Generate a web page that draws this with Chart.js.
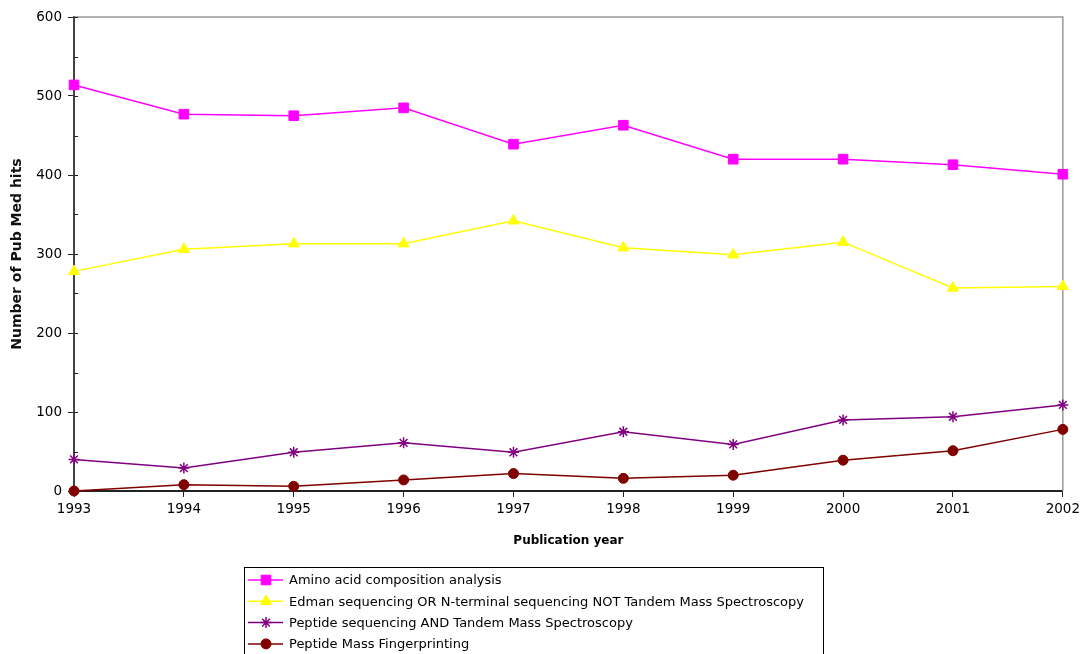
<!DOCTYPE html>
<html>
<head>
<meta charset="utf-8">
<script src="https://cdn.jsdelivr.net/npm/chart.js@4/dist/chart.umd.min.js"></script>
<style>
  html, body { margin: 0; padding: 0; background: #fff; }
  #wrap { width: 1084px; height: 654px; }
</style>
</head>
<body>
<div id="wrap"><canvas id="chart"></canvas></div>
<script>
const years = ['1993', '1994', '1995', '1996', '1997', '1998', '1999', '2000', '2001', '2002'];
const aminoAcid = [514, 477, 475, 485, 439, 463, 420, 420, 413, 401];
const edman = [278, 306, 313, 313, 342, 308, 299, 315, 257, 259];
const peptideSeq = [40, 29, 49, 61, 49, 75, 59, 90, 94, 109];
const pmf = [0, 8, 6, 14, 22, 16, 20, 39, 51, 78];

const seriesNames = [
  'Amino acid composition analysis',
  'Edman sequencing OR N-terminal sequencing NOT Tandem Mass Spectroscopy',
  'Peptide sequencing AND Tandem Mass Spectroscopy',
  'Peptide Mass Fingerprinting'
];

const FONT = 'DejaVu Sans, Verdana, sans-serif';

// top + right frame lines, short inner ticks on y axis
const framePlugin = {
  id: 'frame',
  beforeDatasetsDraw(chart) {
    const { ctx, chartArea: a } = chart;
    ctx.save();
    ctx.strokeStyle = '#999';
    ctx.lineWidth = 1.5;
    ctx.beginPath();
    ctx.moveTo(a.left, a.top);
    ctx.lineTo(a.right, a.top);
    ctx.lineTo(a.right, a.bottom);
    ctx.stroke();
    const y = chart.scales.y;
    ctx.strokeStyle = '#222';
    ctx.lineWidth = 1;
    for (let v = 50; v <= 600; v += 50) {
      const py = Math.round(y.getPixelForValue(v)) + 0.5;
      ctx.beginPath();
      ctx.moveTo(a.left, py);
      ctx.lineTo(a.left + 4, py);
      ctx.stroke();
    }
    ctx.restore();
  }
};

// boxed legend, one row per series, left aligned
const boxLegend = {
  id: 'boxLegend',
  afterDraw(chart) {
    const ctx = chart.ctx;
    const x0 = 244, y0 = 567, w = 579, rowH = 21.3;
    ctx.save();
    ctx.strokeStyle = '#000';
    ctx.lineWidth = 1;
    ctx.strokeRect(x0 + 0.5, y0 + 0.5, w, 100);
    ctx.font = '13px ' + FONT;
    ctx.textBaseline = 'middle';
    chart.data.datasets.forEach((ds, i) => {
      const cy = y0 + 13 + i * rowH;
      ctx.strokeStyle = ds.borderColor;
      ctx.fillStyle = ds.borderColor;
      ctx.lineWidth = 1.5;
      ctx.beginPath();
      ctx.moveTo(x0 + 4, cy);
      ctx.lineTo(x0 + 39, cy);
      ctx.stroke();
      ctx.lineWidth = ds.pointBorderWidth;
      Chart.helpers.drawPoint(ctx, {
        pointStyle: ds.pointStyle,
        radius: ds.pointRadius,
        borderWidth: ds.pointBorderWidth
      }, x0 + 22, cy);
      ctx.fillStyle = '#000';
      ctx.fillText(ds.label, x0 + 45, cy + 1);
    });
    ctx.restore();
  }
};

function makeSet(label, data, color, style, radius) {
  return {
    label: label,
    data: data,
    borderColor: color,
    backgroundColor: color,
    pointBackgroundColor: color,
    pointBorderColor: color,
    pointStyle: style,
    pointRadius: radius,
    pointHoverRadius: radius,
    borderWidth: 1.5,
    pointBorderWidth: style === 'star' ? 1.5 : 1,
    tension: 0,
    clip: false
  };
}

new Chart(document.getElementById('chart'), {
  type: 'line',
  data: {
    labels: years,
    datasets: [
      makeSet(seriesNames[0], aminoAcid, '#FF00FF', 'rect', 6.8),
      makeSet(seriesNames[1], edman, '#FFFF00', 'triangle', 6.3),
      makeSet(seriesNames[2], peptideSeq, '#800080', 'star', 5.5),
      makeSet(seriesNames[3], pmf, '#800000', 'circle', 5)
    ]
  },
  options: {
    responsive: true,
    maintainAspectRatio: false,
    animation: false,
    layout: { padding: { left: 0, top: 17, right: 20, bottom: 103 } },
    plugins: {
      legend: { display: false },
      tooltip: { enabled: false }
    },
    scales: {
      x: {
        offset: false,
        afterFit(scale) { scale.height = 60; },
        grid: { drawOnChartArea: false, tickLength: 6, color: '#222', lineWidth: 1 },
        border: { color: '#222', width: 2 },
        ticks: { color: '#000', font: { family: FONT, size: 13.5 }, padding: 4, maxRotation: 0, autoSkip: false },
        title: {
          display: true,
          text: 'Publication year',
          color: '#000',
          font: { family: FONT, size: 12, weight: 'bold' },
          padding: { top: 9, bottom: 3 }
        }
      },
      y: {
        min: 0,
        max: 600,
        afterFit(scale) { scale.width = 74; },
        grid: {
          drawOnChartArea: false,
          tickLength: 6,
          color: '#222',
          lineWidth: 1
        },
        border: { color: '#444', width: 2 },
        ticks: {
          stepSize: 100,
          color: '#000',
          padding: 6,
          font: { family: FONT, size: 13.5 }
        },
        title: {
          display: true,
          text: 'Number of Pub Med hits',
          color: '#111',
          font: { family: FONT, size: 14, weight: 'bold' },
          padding: { top: 9, bottom: 0 }
        }
      }
    }
  },
  plugins: [framePlugin, boxLegend]
});
</script>
</body>
</html>
